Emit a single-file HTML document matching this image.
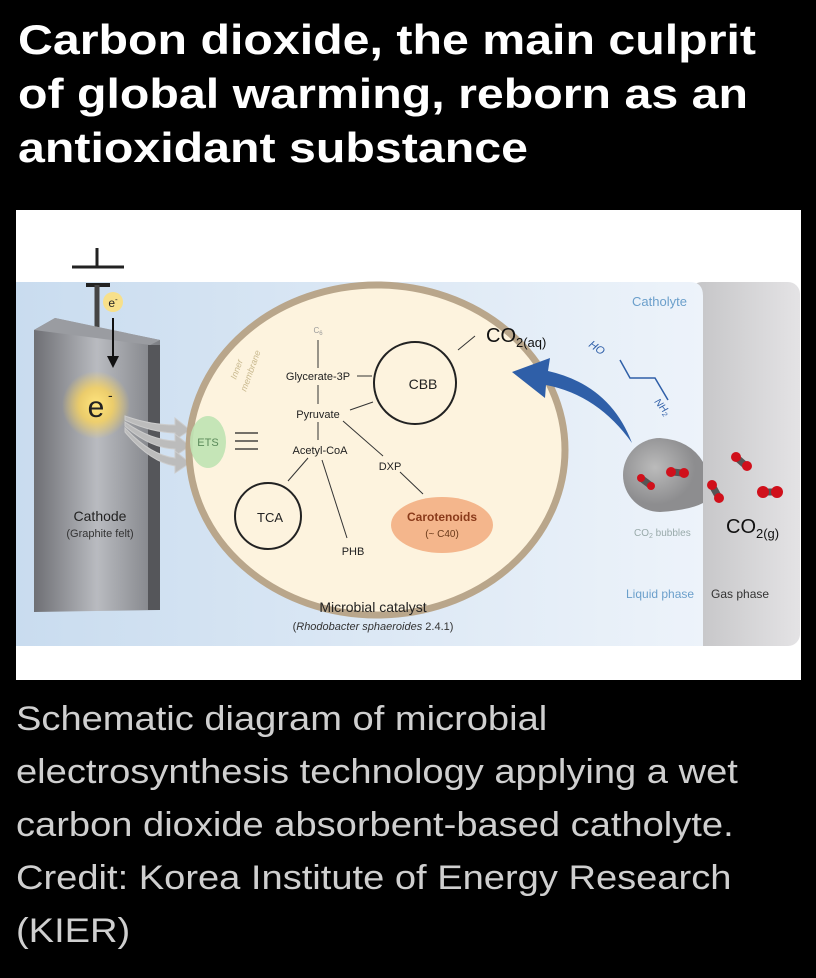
<!DOCTYPE html>
<html><head><meta charset="utf-8"><style>
body{margin:0;background:#000;width:816px;height:978px;overflow:hidden;font-family:"Liberation Sans",sans-serif}
h1{position:absolute;left:18px;top:13px;margin:0;color:#fff;font-size:42px;line-height:54px;font-weight:bold;white-space:nowrap;transform:scaleX(1.15);transform-origin:0 0}
.cap{position:absolute;left:16px;top:693px;color:#cfcfcf;font-size:34px;line-height:53px;white-space:nowrap;transform:scaleX(1.12);transform-origin:0 0}
svg{position:absolute;left:16px;top:210px}
</style></head><body>
<h1>Carbon dioxide, the main culprit<br>of global warming, reborn as an<br>antioxidant substance</h1>
<svg width="785" height="470" viewBox="16 210 785 470" font-family="Liberation Sans, sans-serif">
<defs>
<linearGradient id="bl" x1="0" x2="1"><stop offset="0" stop-color="#c9dcef"/><stop offset="1" stop-color="#edf3fa"/></linearGradient>
<linearGradient id="gp" x1="0" x2="1"><stop offset="0" stop-color="#c4c4c6"/><stop offset="1" stop-color="#e4e3e5"/></linearGradient>
<linearGradient id="cat" x1="0" x2="1"><stop offset="0" stop-color="#6e6f74"/><stop offset=".5" stop-color="#b9bbc0"/><stop offset="1" stop-color="#7d7f84"/></linearGradient>
<radialGradient id="glow"><stop offset="0" stop-color="#ffe680"/><stop offset=".5" stop-color="#fbd45a" stop-opacity=".8"/><stop offset="1" stop-color="#fbd45a" stop-opacity="0"/></radialGradient>
<radialGradient id="bub" cx=".4" cy=".4"><stop offset="0" stop-color="#bbb"/><stop offset="1" stop-color="#8d8d8f"/></radialGradient>
</defs>
<rect x="16" y="210" width="785" height="470" fill="#fff"/>
<rect x="690" y="282" width="110" height="364" rx="12" fill="url(#gp)"/>
<path d="M16 282 H690 Q703 282 703 296 V646 H16 Z" fill="url(#bl)"/>
<line x1="72" y1="267" x2="124" y2="267" stroke="#222" stroke-width="3"/>
<line x1="97" y1="248" x2="97" y2="267" stroke="#222" stroke-width="3"/>
<line x1="86" y1="285" x2="110" y2="285" stroke="#222" stroke-width="4"/>
<line x1="97" y1="285" x2="97" y2="330" stroke="#444" stroke-width="5"/>
<path d="M34 330 L55 318 L160 340 L160 610 L34 612 Z" fill="url(#cat)"/>
<path d="M34 330 L55 318 L160 340 L150 345 Z" fill="#9a9ca1"/>
<rect x="148" y="345" width="12" height="265" fill="#55565a"/>
<circle cx="96" cy="405" r="34" fill="url(#glow)"/>
<text x="96" y="417" font-size="30" text-anchor="middle" fill="#222">e</text><text x="108" y="400" font-size="14" fill="#222">-</text>
<circle cx="113" cy="302" r="10" fill="#f7e08a"/>
<text x="113" y="307" font-size="12" text-anchor="middle" fill="#222">e<tspan dy="-5" font-size="8">-</tspan></text>
<line x1="113" y1="318" x2="113" y2="360" stroke="#111" stroke-width="2"/>
<path d="M107 356 L113 368 L119 356 Z" fill="#111"/>
<text x="100" y="521" font-size="14" text-anchor="middle" fill="#222">Cathode</text>
<text x="100" y="537" font-size="11" text-anchor="middle" fill="#333">(Graphite felt)</text>
<g fill="#bcbcbc" stroke="#ccc">
<path d="M125 416 Q150 425 175 425 L175 418 L190 430 L175 440 L175 433 Q150 432 125 420Z"/>
<path d="M125 422 Q150 440 175 441 L175 434 L190 446 L175 456 L175 449 Q150 448 125 426Z"/>
<path d="M125 428 Q150 455 175 458 L175 451 L190 463 L175 473 L175 466 Q150 462 125 432Z"/>
</g>
<ellipse cx="377" cy="450" rx="188" ry="165" fill="#fdf3de" stroke="#b9a68b" stroke-width="7"/>
<ellipse cx="208" cy="442" rx="18" ry="26" fill="#bfe3b3" opacity=".9"/>
<text x="208" y="446" font-size="11" text-anchor="middle" fill="#5a8a5a">ETS</text>
<text x="236" y="380" font-size="9" fill="#c9b98f" font-style="italic" transform="rotate(-70 236 380)">Inner</text>
<text x="246" y="392" font-size="9" fill="#c9b98f" font-style="italic" transform="rotate(-70 246 392)">membrane</text>
<g stroke="#222" stroke-width="1.3"><line x1="235" y1="433" x2="258" y2="433"/><line x1="235" y1="441" x2="258" y2="441"/><line x1="235" y1="449" x2="258" y2="449"/></g>
<circle cx="415" cy="383" r="41" fill="none" stroke="#222" stroke-width="2"/>
<text x="423" y="389" font-size="14" text-anchor="middle" fill="#222">CBB</text>
<circle cx="268" cy="516" r="33" fill="none" stroke="#222" stroke-width="2"/>
<text x="270" y="522" font-size="13" text-anchor="middle" fill="#222">TCA</text>
<ellipse cx="442" cy="525" rx="51" ry="28" fill="#f4b68c"/>
<text x="442" y="521" font-size="12" text-anchor="middle" fill="#8a3a1a" font-weight="bold">Carotenoids</text>
<text x="442" y="537" font-size="10" text-anchor="middle" fill="#6a3a1a">(~ C40)</text>
<g font-size="11" fill="#222" text-anchor="middle">
<text x="318" y="333" font-size="8" fill="#999">C<tspan font-size="6" dy="2">6</tspan></text>
<text x="318" y="380">Glycerate-3P</text>
<text x="318" y="418">Pyruvate</text>
<text x="320" y="454">Acetyl-CoA</text>
<text x="390" y="470">DXP</text>
<text x="353" y="555">PHB</text>
</g>
<g stroke="#333" stroke-width="1" fill="none">
<line x1="318" y1="340" x2="318" y2="368"/><line x1="357" y1="376" x2="372" y2="376"/>
<line x1="318" y1="385" x2="318" y2="404"/><line x1="350" y1="410" x2="373" y2="402"/>
<line x1="318" y1="422" x2="318" y2="440"/><line x1="343" y1="421" x2="383" y2="456"/>
<line x1="308" y1="458" x2="288" y2="481"/><line x1="322" y1="460" x2="347" y2="538"/>
<line x1="400" y1="472" x2="423" y2="494"/><line x1="475" y1="336" x2="458" y2="350"/>
</g>
<text x="486" y="342" font-size="20" fill="#111">CO<tspan font-size="13" dy="5">2(aq)</tspan></text>
<text x="373" y="612" font-size="14" text-anchor="middle" fill="#222">Microbial catalyst</text>
<text x="373" y="630" font-size="11" text-anchor="middle" fill="#333">(<tspan font-style="italic">Rhodobacter sphaeroides</tspan> 2.4.1)</text>
<path d="M632 443 Q610 385 548 371 L550 358 L512 372 L545 398 L546 385 Q598 395 632 443Z" fill="#2f5fa8"/>
<path d="M620 360 L630 378 L655 378 L668 400" fill="none" stroke="#2f5fa8" stroke-width="1.5"/>
<text x="588" y="346" font-size="11" fill="#2f5fa8" font-style="italic" transform="rotate(35 588 346)">HO</text>
<text x="654" y="402" font-size="10" fill="#2f5fa8" font-style="italic" transform="rotate(50 654 402)">NH<tspan font-size="7" dy="2">2</tspan></text>
<text x="632" y="306" font-size="13" fill="#6b9fcb">Catholyte</text>
<path d="M660 438 Q690 440 703 462 V503 Q690 510 660 512 A37 37 0 0 1 660 438Z" fill="url(#bub)"/>
<g stroke="#555" stroke-width="7" stroke-linecap="round">
<line x1="642" y1="479" x2="650" y2="485"/><line x1="673" y1="472" x2="682" y2="473"/>
<line x1="737" y1="458" x2="745" y2="465"/><line x1="713" y1="487" x2="718" y2="496"/><line x1="765" y1="492" x2="775" y2="492"/></g>
<g fill="#d0101b">
<circle cx="641" cy="478" r="4"/><circle cx="651" cy="486" r="4"/><circle cx="671" cy="472" r="5"/><circle cx="684" cy="473" r="5"/>
<circle cx="736" cy="457" r="5"/><circle cx="747" cy="466" r="5"/><circle cx="712" cy="485" r="5"/><circle cx="719" cy="498" r="5"/><circle cx="763" cy="492" r="6"/><circle cx="777" cy="492" r="6"/></g>
<text x="634" y="536" font-size="10" fill="#9aa">CO<tspan font-size="7" dy="2">2</tspan><tspan dy="-2"> bubbles</tspan></text>
<text x="726" y="533" font-size="20" fill="#111">CO<tspan font-size="13" dy="5">2(g)</tspan></text>
<text x="626" y="598" font-size="12" fill="#6b9fcb">Liquid phase</text>
<text x="711" y="598" font-size="12" fill="#333">Gas phase</text>
</svg>
<div class="cap">Schematic diagram of microbial<br>electrosynthesis technology applying a wet<br>carbon dioxide absorbent-based catholyte.<br>Credit: Korea Institute of Energy Research<br>(KIER)</div>
</body></html>
